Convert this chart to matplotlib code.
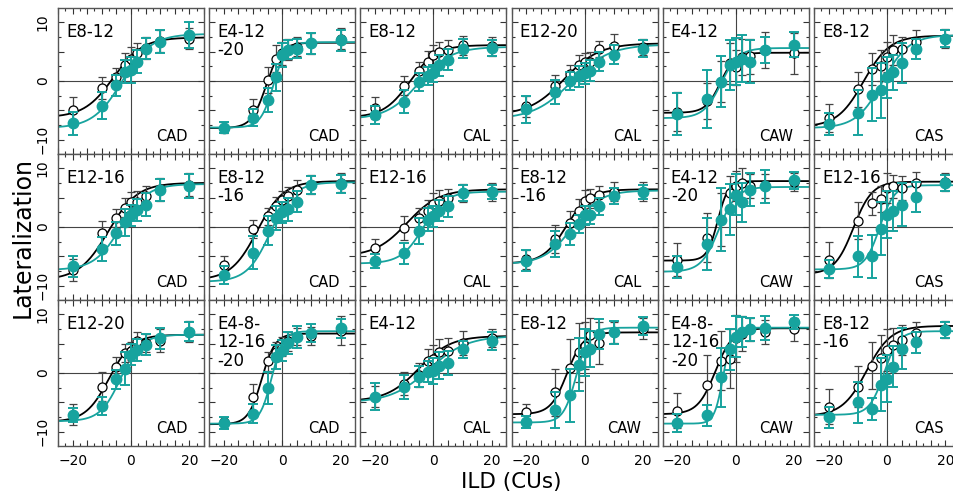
import numpy as np
import matplotlib
matplotlib.use("Agg")
import matplotlib.pyplot as plt
from matplotlib.ticker import MultipleLocator, FuncFormatter

# ILD values (CUs) shared by every panel
ild = [-20, -10, -5, -2, 0, 2, 5, 10, 20]

# panel labels, row by row
electrodes = [
    "E8-12", "E4-12\n-20", "E8-12", "E12-20", "E4-12", "E8-12",
    "E12-16", "E8-12\n-16", "E12-16", "E8-12\n-16", "E4-12\n-20", "E12-16",
    "E12-20", "E4-8-\n12-16\n-20", "E4-12", "E8-12", "E4-8-\n12-16\n-20", "E8-12\n-16",
]
devices = [
    "CAD", "CAD", "CAL", "CAL", "CAW", "CAS",
    "CAD", "CAD", "CAL", "CAL", "CAW", "CAS",
    "CAD", "CAD", "CAL", "CAW", "CAW", "CAS",
]

# open (black) symbols: mean lateralization and error
open_y = [
    [-4.9, -1.2, 0.7, 2.8, 3.7, 4.7, 5.6, 6.8, 7.2],
    [-7.9, -4.9, 0.2, 3.8, 4.7, 5.3, 5.8, 6.4, 7.2],
    [-4.6, -0.8, 1.7, 3.3, 4.4, 4.9, 5.3, 6.1, 5.9],
    [-4.3, -0.8, 1.2, 2.7, 3.2, 3.3, 5.4, 6.0, 5.8],
    [-5.2, -3.4, -0.1, 3.0, 2.3, 4.1, 4.2, 5.25, 4.7],
    [-6.3, -1.4, 2.0, 2.6, 4.1, 5.3, 5.5, 6.7, 7.2],
    [-7.3, -1.0, 1.5, 3.3, 4.2, 4.3, 5.2, 6.4, 7.2],
    [-6.4, -0.3, 1.8, 3.5, 4.6, 5.2, 6.3, 7.2, 7.5],
    [-3.6, -0.2, 1.6, 2.8, 3.9, 4.5, 4.9, 5.8, 6.0],
    [-5.5, -2.0, 0.7, 2.7, 4.5, 4.9, 5.5, 6.0, 6.0],
    [-5.6, -1.8, 1.2, 5.7, 7.0, 7.5, 7.0, 7.0, 7.7],
    [-5.6, 1.1, 4.0, 4.7, 6.6, 6.9, 6.6, 7.5, 7.6],
    [-7.1, -2.3, 1.0, 3.4, 3.7, 5.5, 5.1, 5.5, 7.0],
    [-8.4, -4.1, 2.0, 3.6, 4.5, 5.4, 6.2, 6.3, 7.2],
    [-4.0, -1.8, -0.3, 2.1, 2.3, 3.6, 3.8, 5.1, 5.9],
    [-6.7, -3.3, 0.8, 3.5, 4.6, 6.5, 5.1, 6.9, 7.5],
    [-6.4, -2.0, 2.1, 2.4, 5.9, 6.7, 7.4, 7.0, 7.4],
    [-5.7, -2.3, 1.2, 2.5, 3.9, 4.7, 5.6, 6.8, 7.4],
]
open_err = [
    [2.2, 1.8, 1.5, 2.0, 2.0, 1.8, 1.8, 1.8, 1.8],
    [1.0, 1.8, 2.2, 2.3, 2.0, 1.8, 1.6, 1.8, 1.8],
    [1.8, 1.6, 1.6, 1.8, 1.8, 1.8, 1.6, 1.6, 1.6],
    [1.8, 1.8, 1.6, 1.8, 1.6, 1.6, 1.4, 2.0, 1.4],
    [3.3, 3.0, 3.5, 3.5, 3.0, 3.0, 3.0, 3.0, 3.5],
    [2.4, 3.0, 2.7, 2.6, 2.5, 2.5, 2.0, 2.0, 1.6],
    [1.8, 2.0, 1.5, 1.6, 1.8, 1.8, 1.8, 2.0, 2.0],
    [1.5, 1.5, 1.5, 1.6, 1.6, 1.6, 1.6, 1.6, 1.6],
    [1.6, 2.0, 1.6, 1.8, 1.8, 1.8, 1.6, 1.5, 1.5],
    [1.6, 2.4, 2.0, 2.0, 1.8, 1.6, 1.4, 1.6, 1.6],
    [2.8, 4.2, 4.5, 3.0, 2.5, 2.5, 2.0, 2.0, 1.5],
    [3.0, 3.2, 2.0, 2.2, 2.5, 2.0, 2.0, 1.8, 1.5],
    [1.8, 2.5, 1.8, 1.5, 1.5, 1.5, 1.5, 2.0, 1.8],
    [1.0, 2.3, 1.6, 1.6, 1.6, 1.6, 1.5, 1.5, 2.5],
    [1.8, 2.0, 2.0, 2.0, 2.5, 2.2, 2.2, 2.0, 1.5],
    [1.5, 4.0, 5.0, 5.0, 4.0, 2.8, 3.5, 1.8, 1.8],
    [3.0, 5.0, 5.0, 5.0, 4.0, 3.0, 2.0, 2.0, 2.0],
    [3.0, 3.5, 4.0, 4.0, 3.5, 3.0, 2.5, 1.8, 1.4],
]

# filled (teal) symbols
fill_y = [
    [-7.2, -4.2, -0.7, 1.6, 1.9, 3.3, 5.5, 6.7, 7.8],
    [-7.9, -6.2, -3.2, 0.6, 4.4, 5.3, 5.5, 6.4, 6.9],
    [-5.8, -3.5, -0.2, 0.8, 1.3, 2.7, 3.6, 5.5, 5.6],
    [-4.8, -1.9, 0.0, 0.8, 1.3, 1.75, 3.3, 4.5, 5.5],
    [-5.6, -3.05, -0.1, 2.7, 3.3, 3.8, 3.3, 5.25, 6.2],
    [-7.3, -5.4, -2.3, -1.6, 0.6, 1.5, 3.0, 5.5, 7.2],
    [-6.7, -3.7, -1.1, 0.8, 2.0, 2.9, 3.8, 6.3, 7.0],
    [-8.1, -4.4, -0.6, 1.5, 2.5, 3.0, 4.3, 7.1, 7.3],
    [-5.8, -4.5, -0.7, 1.25, 1.8, 2.8, 3.5, 5.8, 5.9],
    [-5.7, -2.9, -1.2, 0.56, 2.0, 2.0, 3.5, 5.3, 5.9],
    [-6.8, -2.9, 1.25, 3.0, 5.5, 4.2, 6.3, 6.9, 7.9],
    [-7.1, -5.0, -5.0, -0.3, 2.1, 2.7, 3.8, 5.1, 7.5],
    [-7.2, -5.6, -1.1, 0.7, 3.1, 3.9, 4.8, 5.9, 7.0],
    [-8.5, -6.9, -2.6, 2.7, 3.8, 5.1, 6.1, 6.8, 7.6],
    [-4.0, -2.4, -0.6, 0.25, 0.4, 1.2, 1.7, 4.0, 5.4],
    [-8.3, -6.3, -3.8, 1.4, 3.5, 4.1, 6.6, 6.9, 8.0],
    [-8.5, -7.2, -0.7, 4.0, 6.2, 7.0, 7.4, 7.6, 8.6],
    [-7.5, -5.0, -6.1, -2.0, -1.0, 1.1, 4.1, 5.2, 7.3],
]
fill_err = [
    [2.0, 2.3, 1.8, 2.0, 2.2, 2.0, 1.8, 2.0, 2.2],
    [1.0, 1.5, 2.0, 2.3, 2.0, 1.6, 1.6, 1.8, 1.8],
    [1.5, 2.0, 1.5, 1.5, 1.5, 1.8, 1.8, 1.6, 1.4],
    [2.3, 2.0, 1.6, 1.8, 1.8, 1.8, 1.6, 1.6, 1.4],
    [3.5, 5.0, 4.4, 4.2, 4.0, 4.0, 3.6, 2.2, 2.1],
    [1.8, 3.8, 4.5, 4.7, 3.5, 3.0, 3.4, 1.7, 1.4],
    [1.8, 2.0, 2.0, 2.3, 1.8, 1.8, 2.0, 1.8, 2.0],
    [1.5, 2.8, 2.4, 2.0, 1.8, 2.0, 1.8, 1.5, 1.5],
    [1.2, 1.8, 2.2, 2.0, 1.8, 1.8, 1.8, 1.4, 1.2],
    [1.8, 2.2, 1.8, 1.5, 1.6, 1.5, 1.5, 1.4, 1.2],
    [1.8, 4.4, 5.4, 4.3, 3.5, 3.3, 2.8, 2.8, 1.4],
    [1.5, 3.5, 3.6, 4.5, 4.0, 3.4, 3.6, 2.5, 1.3],
    [1.2, 1.5, 1.6, 2.8, 1.8, 1.8, 1.8, 1.8, 1.6],
    [1.0, 1.6, 2.7, 2.0, 1.8, 1.8, 1.8, 1.6, 1.6],
    [2.3, 2.0, 1.8, 1.8, 2.2, 2.3, 2.0, 1.5, 1.5],
    [1.0, 3.0, 4.5, 4.5, 4.0, 3.0, 2.5, 2.0, 1.5],
    [1.5, 1.8, 5.0, 3.5, 3.5, 2.5, 2.0, 2.0, 1.2],
    [1.8, 3.5, 1.8, 4.5, 4.0, 3.5, 3.5, 1.8, 1.4],
]

# fitted logistic parameters (lower, upper, midpoint, slope)
open_fit = [
    (-6.2, 7.4, -6.0, 5.0), (-8.0, 6.5, -5.5, 2.5), (-6.2, 6.1, -8.0, 4.5),
    (-5.8, 6.4, -7.0, 6.0), (-5.4, 4.8, -5.3, 2.5), (-7.8, 7.7, -8.0, 4.5),
    (-9.0, 7.5, -7.8, 5.0), (-9.0, 7.8, -8.5, 4.5), (-5.0, 6.4, -9.0, 5.5),
    (-6.2, 6.4, -6.3, 4.0), (-5.7, 7.8, -6.2, 1.8), (-8.0, 7.7, -11.5, 3.2),
    (-8.3, 6.5, -7.5, 4.0), (-8.7, 6.7, -7.0, 2.3), (-4.8, 6.3, -5.0, 5.5),
    (-7.0, 6.9, -6.0, 2.8), (-7.0, 7.6, -7.0, 3.0), (-7.3, 8.0, -7.0, 4.2),
]
fill_fit = [
    (-8.0, 8.0, -3.0, 5.0), (-7.9, 6.6, -3.0, 2.2), (-6.5, 5.8, -5.0, 5.5),
    (-6.5, 6.2, -4.5, 6.5), (-6.3, 5.6, -5.0, 3.0), (-8.0, 7.8, -1.5, 4.5),
    (-7.3, 7.3, -3.5, 4.5), (-9.3, 7.6, -4.0, 4.0), (-6.2, 6.0, -3.5, 3.8),
    (-6.3, 6.2, -4.2, 4.8), (-7.6, 6.8, -5.8, 3.0), (-7.2, 7.1, -2.5, 2.5),
    (-8.2, 6.5, -3.5, 3.5), (-8.6, 7.1, -3.6, 2.0), (-5.0, 6.3, -1.5, 6.5),
    (-8.4, 7.7, -2.8, 2.2), (-8.6, 7.7, -4.3, 1.5), (-7.1, 7.1, -1.0, 2.5),
]

TEAL = "#17a39e"
W, H = 954, 498


def logistic(x, lo, hi, x0, s):
    return lo + (hi - lo) / (1 + np.exp(-(x - x0) / s))


fig = plt.figure(figsize=(W / 100, H / 100), dpi=100)
xs = np.linspace(-25, 25, 300)

for i in range(18):
    r, c = divmod(i, 6)
    left = 58 + c * 151.2
    top = 8 + r * 146
    ax = fig.add_axes([left / W, 1 - (top + 146) / H, 146 / W, 146 / H])
    ax.set_xlim(-25, 25)
    ax.set_ylim(-12.4, 12.4)
    ax.axhline(0, color="#444444", lw=0.8, zorder=1)
    ax.axvline(0, color="#444444", lw=0.8, zorder=1)

    ax.plot(xs, logistic(xs, *open_fit[i]), color="black", lw=1.3, zorder=2)
    ax.plot(xs, logistic(xs, *fill_fit[i]), color=TEAL, lw=1.3, zorder=2)
    ax.errorbar(ild, open_y[i], yerr=open_err[i], fmt="o", ms=6.5,
                mfc="white", mec="black", mew=0.9, ecolor="#444444",
                elinewidth=0.9, capsize=3.2, capthick=0.9, zorder=3)
    ax.errorbar(ild, fill_y[i], yerr=fill_err[i], fmt="o", ms=7.5,
                mfc=TEAL, mec=TEAL, ecolor=TEAL, elinewidth=1.4,
                capsize=3.5, capthick=1.4, zorder=4)

    ax.text(0.055, 0.9, electrodes[i], transform=ax.transAxes, fontsize=12,
            va="top", ha="left", linespacing=1.05)
    ax.text(0.89, 0.09, devices[i], transform=ax.transAxes, fontsize=10.5,
            va="baseline", ha="right")

    ax.xaxis.set_major_locator(MultipleLocator(5))
    ax.xaxis.set_minor_locator(MultipleLocator(2.5))
    ax.yaxis.set_major_locator(MultipleLocator(5))
    ax.yaxis.set_minor_locator(MultipleLocator(2.5))
    ax.xaxis.set_major_formatter(
        FuncFormatter(lambda v, p: f"{v:.0f}".replace("-", "\u2212") if v % 20 == 0 else ""))
    ax.yaxis.set_major_formatter(
        FuncFormatter(lambda v, p: f"{v:.0f}".replace("-", "\u2212") if v % 10 == 0 else ""))
    ax.tick_params(which="both", direction="in", top=True, right=True,
                   color="#333333", width=0.8, labelsize=10)
    ax.tick_params(which="major", length=4.5)
    ax.tick_params(which="minor", length=2.5)
    ax.tick_params(axis="x", pad=6, labelbottom=(r == 2))
    ax.tick_params(axis="y", pad=6, labelleft=(c == 0), labelrotation=90)
    for lab in ax.get_yticklabels():
        lab.set_va("center")
    for sp in ax.spines.values():
        sp.set_color("#555555")
        sp.set_linewidth(1.0)

fig.text(23 / W, 1 - 237 / H, "Lateralization", rotation=90, fontsize=17,
         ha="center", va="center")
fig.text(511 / W, 1 - 482 / H, "ILD (CUs)", fontsize=15.5,
         ha="center", va="center")

fig.savefig("out.png", dpi=100)
